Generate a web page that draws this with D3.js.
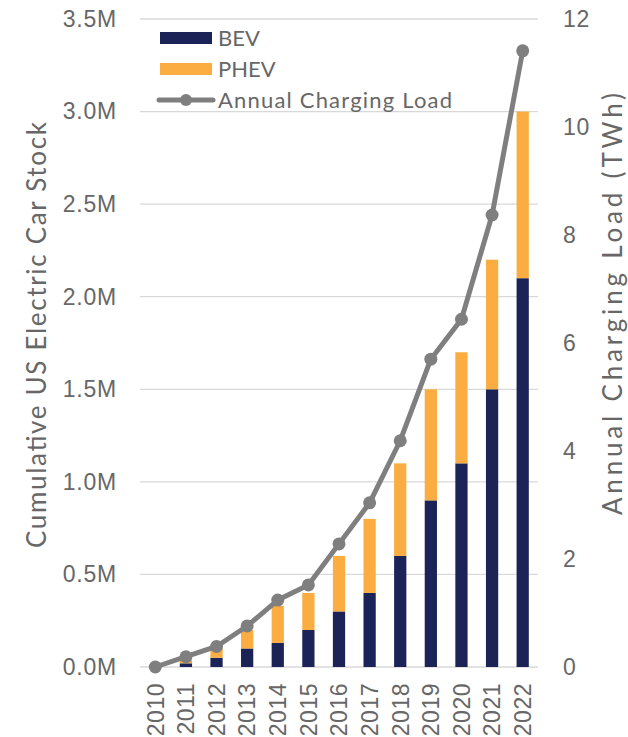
<!DOCTYPE html>
<html>
<head>
<meta charset="utf-8">
<script src="https://cdn.jsdelivr.net/npm/d3@7"></script>
<style>
  html, body { margin: 0; padding: 0; background: #fff; }
  svg { display: block; font-family: "Lato", "DejaVu Sans", sans-serif; }
</style>
</head>
<body>
<svg id="chart" width="628" height="737"></svg>
<script>
// Cumulative EV stock (millions) by type, and annual charging load (TWh)
const years = ["2010","2011","2012","2013","2014","2015","2016","2017","2018","2019","2020","2021","2022"];
const bevStock  = [0, 0.02, 0.05, 0.10, 0.13, 0.20, 0.30, 0.40, 0.60, 0.90, 1.10, 1.50, 2.10];
const phevStock = [0, 0.02, 0.05, 0.10, 0.20, 0.20, 0.30, 0.40, 0.50, 0.60, 0.60, 0.70, 0.90];
const chargingLoad = [0, 0.19, 0.38, 0.76, 1.24, 1.52, 2.28, 3.04, 4.19, 5.70, 6.44, 8.37, 11.41];
const leftTicks  = [0, 0.5, 1.0, 1.5, 2.0, 2.5, 3.0, 3.5];
const rightTicks = [0, 2, 4, 6, 8, 10, 12];

const svg = d3.select("#chart");
const plot = { left: 140, right: 538, top: 19, bottom: 667 };
const textColor = "#676767";
const colors = { BEV: "#1c2457", PHEV: "#fbad41", line: "#7f7f7f", grid: "#d9d9d9" };

const x = d3.scaleBand().domain(years).range([plot.left, plot.right]).paddingInner(0.6).paddingOuter(0.3);
const yL = d3.scaleLinear().domain([0, 3.5]).range([plot.bottom, plot.top]);
const yR = d3.scaleLinear().domain([0, 12]).range([plot.bottom, plot.top]);

// gridlines
svg.append("g").selectAll("line").data(leftTicks).join("line")
  .attr("x1", plot.left).attr("x2", plot.right)
  .attr("y1", d => yL(d)).attr("y2", d => yL(d))
  .attr("stroke", colors.grid).attr("stroke-width", 1.3);

// left axis
const leftAxis = svg.append("g").attr("transform", `translate(${plot.left - 23},0)`)
  .call(d3.axisLeft(yL).tickValues(leftTicks).tickSize(0).tickPadding(0).tickFormat(d => d3.format(".1f")(d) + "M"));
leftAxis.select(".domain").remove();
leftAxis.selectAll("text").attr("font-size", 23).attr("fill", textColor).attr("font-family", null)
  .attr("letter-spacing", 0.8);

// right axis
const rightAxis = svg.append("g").attr("transform", `translate(${plot.right + 25},0)`)
  .call(d3.axisRight(yR).tickValues(rightTicks).tickSize(0).tickPadding(0));
rightAxis.select(".domain").remove();
rightAxis.selectAll("text").attr("font-size", 23).attr("fill", textColor).attr("font-family", null)
  .attr("letter-spacing", 0.8);

// year labels
const xAxis = svg.append("g").attr("transform", `translate(0,${plot.bottom + 16})`)
  .call(d3.axisBottom(x).tickSize(0).tickPadding(0));
xAxis.select(".domain").remove();
xAxis.selectAll("text")
  .attr("font-size", 23).attr("fill", textColor).attr("font-family", null)
  .attr("letter-spacing", 0.5)
  .attr("transform", "rotate(-90)").attr("text-anchor", "end")
  .attr("dx", 0).attr("dy", "0.36em").attr("x", 0).attr("y", 0);

// stacked bars
const rows = years.map((yr, i) => ({ year: yr, BEV: bevStock[i], PHEV: phevStock[i] }));
const stack = d3.stack().keys(["BEV", "PHEV"])(rows);
svg.append("g").selectAll("g").data(stack).join("g")
  .attr("fill", d => colors[d.key])
  .selectAll("rect").data(d => d).join("rect")
  .attr("x", d => x(d.data.year))
  .attr("width", x.bandwidth())
  .attr("y", d => yL(d[1]))
  .attr("height", d => yL(d[0]) - yL(d[1]));

// charging load line
const line = d3.line().x((d, i) => x(years[i]) + x.bandwidth() / 2).y(d => yR(d));
svg.append("path").datum(chargingLoad)
  .attr("d", line).attr("fill", "none")
  .attr("stroke", colors.line).attr("stroke-width", 5).attr("stroke-linejoin", "round");
svg.append("g").selectAll("circle").data(chargingLoad).join("circle")
  .attr("cx", (d, i) => x(years[i]) + x.bandwidth() / 2)
  .attr("cy", d => yR(d)).attr("r", 6.5).attr("fill", colors.line);

// axis titles
svg.append("text")
  .attr("transform", "translate(46,335) rotate(-90)")
  .attr("text-anchor", "middle").attr("font-size", 26).attr("fill", textColor)
  .attr("textLength", 426).attr("lengthAdjust", "spacing")
  .text("Cumulative US Electric Car Stock");
svg.append("text")
  .attr("transform", "translate(622,304) rotate(-90)")
  .attr("text-anchor", "middle").attr("font-size", 26).attr("fill", textColor)
  .attr("textLength", 422).attr("lengthAdjust", "spacing")
  .text("Annual Charging Load (TWh)");

// legend
const legend = svg.append("g").attr("transform", "translate(160,32)");
const legendItems = [
  { label: "BEV", type: "rect", color: colors.BEV },
  { label: "PHEV", type: "rect", color: colors.PHEV },
  { label: "Annual Charging Load", type: "line", color: colors.line, len: 234 }
];
legendItems.forEach((it, i) => {
  const g = legend.append("g").attr("transform", `translate(0,${i * 31})`);
  if (it.type === "rect") {
    g.append("rect").attr("width", 52).attr("height", 12).attr("fill", it.color);
  } else {
    g.append("line").attr("x1", -1).attr("x2", 53).attr("y1", 6).attr("y2", 6)
      .attr("stroke", it.color).attr("stroke-width", 5).attr("stroke-linecap", "round");
    g.append("circle").attr("cx", 26).attr("cy", 6).attr("r", 6).attr("fill", it.color);
  }
  const t = g.append("text").attr("x", 58).attr("y", 6).attr("dy", "0.36em")
    .attr("font-size", 22).attr("fill", textColor)
    .text(it.label);
  if (it.len) t.attr("textLength", it.len).attr("lengthAdjust", "spacing");
});
</script>
</body>
</html>
